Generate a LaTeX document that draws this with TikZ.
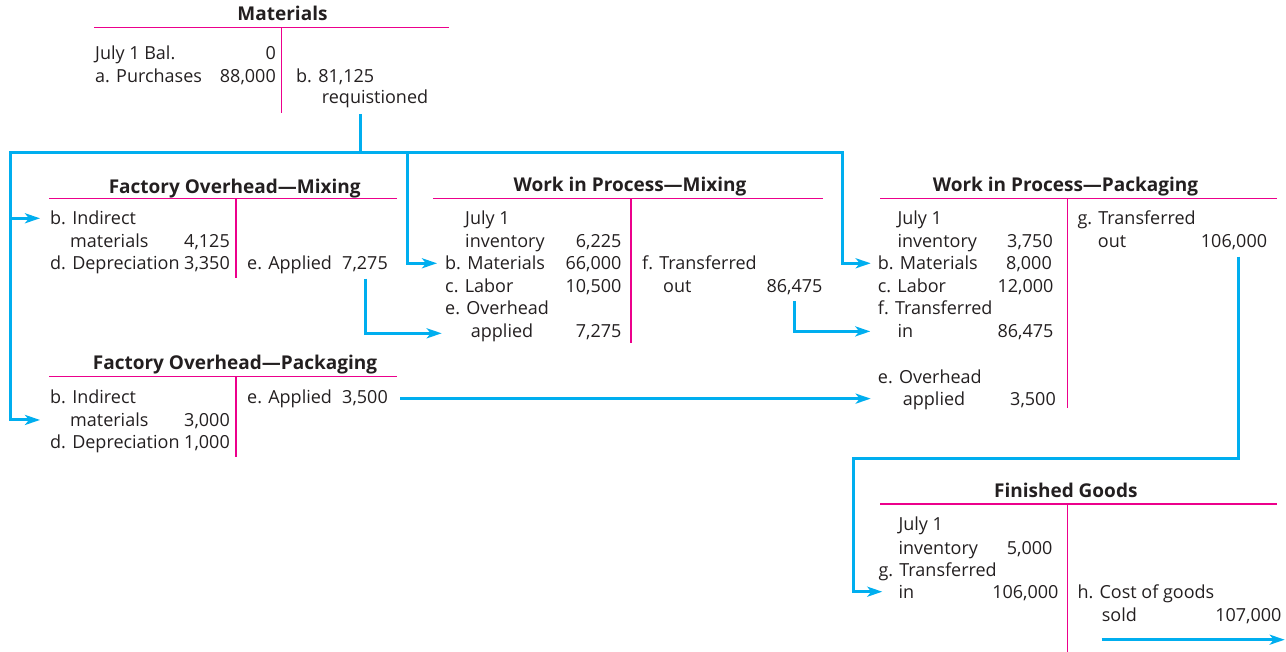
\documentclass[tikz,border=0pt]{standalone}
\usepackage{fontspec}
\setmainfont{Open Sans}
\usetikzlibrary{arrows.meta}
\usetikzlibrary{positioning}
\usetikzlibrary{calc}

\definecolor{tpink}{RGB}{236,0,140}
\definecolor{tblue}{RGB}{0,174,239}
\definecolor{ink}{RGB}{35,31,32}

\tikzset{
    acct/.style={font=\bfseries\fontsize{19}{22}\selectfont, anchor=base, inner sep=0pt},
    lbl/.style={anchor=base west, inner sep=0pt},
    amt/.style={anchor=base east, inner sep=0pt},
    tline/.style={draw=tpink, line width=1.1pt},
    flow/.style={draw=tblue, line width=3pt, -{Stealth[length=15pt,width=10pt,inset=4pt]}},
}

\begin{document}
\begin{tikzpicture}[x=1pt, y=-1pt, font=\fontsize{18}{21}\selectfont, text=ink]
    \useasboundingbox (0,0) rectangle (1286,652);

    %Materials
    \node[acct] (mat) at (282.5,20.7) {Materials};
    \draw[tline] (94,27.3) -- (449,27.3);
    \draw[tline] (281.7,27.3) -- (281.7,113.3);
    \node[lbl] (matbal) at (95,60) {July 1 Bal.};
    \node[amt] (matbalv) at (276,60) {0};
    \node[lbl] (mata) at (95,82.3) {a. Purchases};
    \node[amt] (matav) at (276,82.3) {88,000};
    \node[lbl] (matb) at (296,82.3) {b. 81,125};
    \node[lbl] (matreq) at (321.7,104) {requistioned};

    % ------------------

    %Factory overhead - mixing
    \node[acct] (fom) at (234.7,193.3) {Factory Overhead—Mixing};
    \draw[tline] (49,198.3) -- (397,198.3);
    \draw[tline] (236,198.3) -- (236,277.7);
    \node[lbl] (fomb) at (50,225) {b. Indirect};
    \node[lbl] (fomm) at (70,247.7) {materials};
    \node[amt] (fommv) at (230,247.7) {4,125};
    \node[lbl] (fomd) at (50,270) {d. Depreciation};
    \node[amt] (fomdv) at (230,270) {3,350};
    \node[lbl] (fome) at (247,270) {e. Applied};
    \node[amt] (fomev) at (388,270) {7,275};

    % ------------------

    %Factory overhead - packaging
    \node[acct] (fop) at (235,370) {Factory Overhead—Packaging};
    \draw[tline] (49,376.7) -- (397,376.7);
    \draw[tline] (236,376.7) -- (236,457);
    \node[lbl] (fopb) at (50,404) {b. Indirect};
    \node[lbl] (fopm) at (70,426.7) {materials};
    \node[amt] (fopmv) at (230,426.7) {3,000};
    \node[lbl] (fopd) at (50,449) {d. Depreciation};
    \node[amt] (fopdv) at (230,449) {1,000};
    \node[lbl] (fope) at (247,404) {e. Applied};
    \node[amt] (fopev) at (388,404) {3,500};

    % ------------------

    %Work in process - mixing
    \node[acct] (wipm) at (630,191.7) {Work in Process—Mixing};
    \draw[tline] (433,198.3) -- (822.7,198.3);
    \draw[tline] (631,198.3) -- (631,343);
    \node[lbl] (wipmjul) at (465,225) {July 1};
    \node[lbl] (wipminv) at (465,248) {inventory};
    \node[amt] (wipminvv) at (621.7,248) {6,225};
    \node[lbl] (wipmb) at (445,270) {b. Materials};
    \node[amt] (wipmbv) at (621.7,270) {66,000};
    \node[lbl] (wipmc) at (445,292.7) {c. Labor};
    \node[amt] (wipmcv) at (621.7,292.7) {10,500};
    \node[lbl] (wipme) at (445,315) {e. Overhead};
    \node[lbl] (wipmap) at (470.7,338) {applied};
    \node[amt] (wipmapv) at (621.7,338) {7,275};
    \node[lbl] (wipmf) at (642,270) {f. Transferred};
    \node[lbl] (wipmout) at (663,292.7) {out};
    \node[amt] (wipmov) at (822.7,292.7) {86,475};

    % ------------------

    %Work in process - packaging
    \node[acct] (wipp) at (1065.5,191.7) {Work in Process—Packaging};
    \draw[tline] (880,198.3) -- (1277,198.3);
    \draw[tline] (1067.3,198.3) -- (1067.3,408);
    \node[lbl] (wippjul) at (897.3,225) {July 1};
    \node[lbl] (wippinv) at (897.3,248) {inventory};
    \node[amt] (wippinvv) at (1053,248) {3,750};
    \node[lbl] (wippb) at (877.7,270) {b. Materials};
    \node[amt] (wippbv) at (1052,270) {8,000};
    \node[lbl] (wippc) at (877.7,292.7) {c. Labor};
    \node[amt] (wippcv) at (1053.7,292.7) {12,000};
    \node[lbl] (wippf) at (877.7,315) {f. Transferred};
    \node[lbl] (wippin) at (897.3,338) {in};
    \node[amt] (wippinv2) at (1053.7,338) {86,475};
    \node[lbl] (wippe) at (877.7,383.3) {e. Overhead};
    \node[lbl] (wippap) at (902.7,406) {applied};
    \node[amt] (wippapv) at (1056,406) {3,500};
    \node[lbl] (wippg) at (1077.3,225) {g. Transferred};
    \node[lbl] (wippout) at (1097.7,248) {out};
    \node[amt] (wippov) at (1267.3,248) {106,000};

    % ------------------

    %Finished goods
    \node[acct] (fg) at (1065.8,497.3) {Finished Goods};
    \draw[tline] (880,504) -- (1277,504);
    \draw[tline] (1067.3,504) -- (1067.3,652);
    \node[lbl] (fgjul) at (898.3,530.7) {July 1};
    \node[lbl] (fginv) at (898.3,554) {inventory};
    \node[amt] (fginvv) at (1052.7,554) {5,000};
    \node[lbl] (fgg) at (878.3,576) {g. Transferred};
    \node[lbl] (fgin) at (898.3,598.3) {in};
    \node[amt] (fginv2) at (1058.7,598.3) {106,000};
    \node[lbl] (fgh) at (1077.3,598.3) {h. Cost of goods};
    \node[lbl] (fgsold) at (1101.7,621.7) {sold};
    \node[amt] (fgsoldv) at (1281.7,621.7) {107,000};

    % ------------------

    % flows
    \coordinate (req) at (360,114);
    \coordinate (busL) at (10,153);
    \coordinate (busM) at (407,153);
    \coordinate (busR) at (842,153);
    \coordinate (fgbend) at (853,458.3);

    \draw[flow] (req) |- (busR) |- ([xshift=-7pt]wippb.west);
    \draw[flow] (busM) |- ([xshift=-8pt]wipmb.west);
    \draw[flow] (req |- busL) -- (busL) |- ([xshift=-10pt]fomb.west);
    \draw[flow] ([yshift=-60pt]busL) |- ([xshift=-10pt]fopb.west |- fopm.west);
    \draw[flow] ([yshift=-6pt]fomev.south) |- ([xshift=-29pt]wipmap.west);
    \draw[flow] ([yshift=-6pt]wipmov.south) |- ([xshift=-27pt]wippin.west);
    \draw[flow] ([xshift=12pt]fopev.east) -- ([xshift=-32pt]wippap.west |- fopev.east);
    \draw[flow] ([xshift=4pt,yshift=-6pt]wippov.south) |- (fgbend) |- ([xshift=-16pt]fgin.west);
    \draw[flow] ([yshift=-18pt]fgsold.base west) -- ([xshift=3pt,yshift=-18pt]fgsoldv.base east);
\end{tikzpicture}
\end{document}
